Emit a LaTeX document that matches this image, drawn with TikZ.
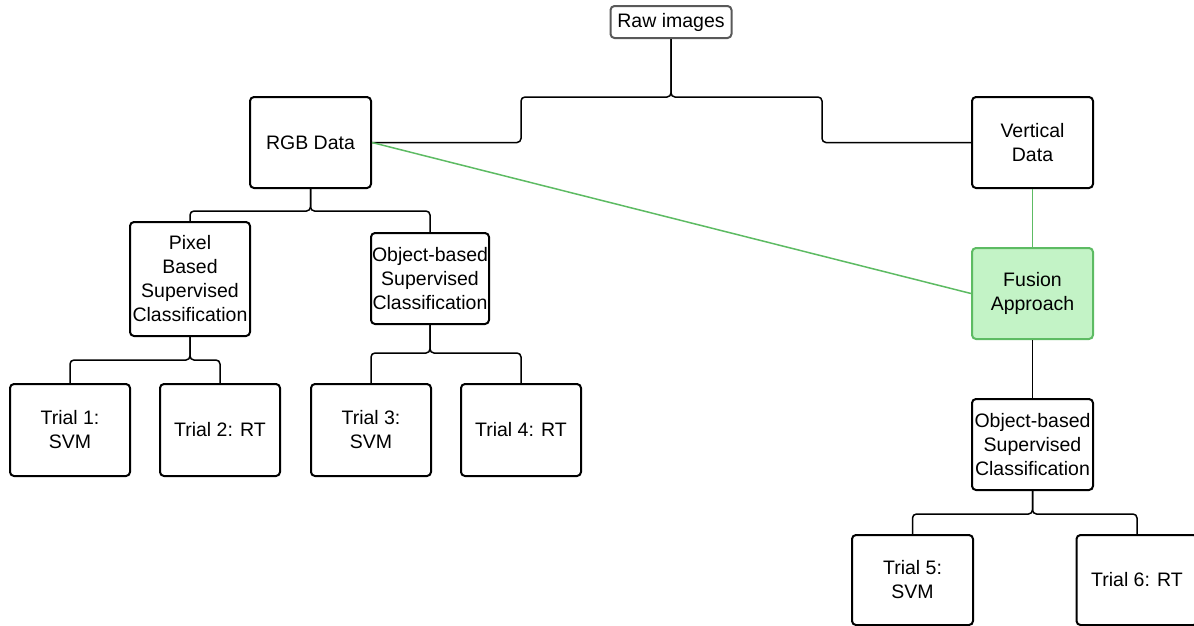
\documentclass[tikz,border=0pt]{standalone}
\usepackage{fontspec}
\setmainfont{Liberation Sans}
\begin{document}
\begin{tikzpicture}[x=1pt,y=-1pt,
  every node/.style={font=\fontsize{19.5}{24}\selectfont, align=center, inner sep=0pt},
  box/.style={draw=black, line width=2pt, rounded corners=4pt, fill=white,
              minimum width=121pt, minimum height=91pt},
  rawbox/.style={draw=black!65, line width=2pt, rounded corners=4pt, fill=white,
              minimum width=121pt, minimum height=32pt},
  fusebox/.style={draw=fuseline, line width=2pt, rounded corners=4pt, fill=fusefill,
              minimum width=121pt, minimum height=91pt},
  conn/.style={draw=black, line width=1.5pt, rounded corners=4pt},
  gconn/.style={draw=fuseline, line width=1.5pt}
]
\definecolor{fuseline}{HTML}{5DBB63}
\definecolor{fusefill}{HTML}{C3F3C6}
\useasboundingbox (0,0) rectangle (1194,625);

% nodes
\node[rawbox] (raw) at (671,22) {Raw images};
\node[box] (rgb) at (310.5,142.5) {RGB Data};
\node[box] (vert) at (1032.5,142.5) {Vertical\\Data};
\node[fusebox] (fusion) at (1032.5,293.5) {Fusion\\Approach};
\node[box, minimum width=120pt, minimum height=114pt] (pix) at (190,279)
  {Pixel\\Based\\Supervised\\Classification};
\node[box, minimum width=118pt] (obja) at (430,278.5)
  {Object-based\\Supervised\\Classification};
\node[box, minimum width=120pt, minimum height=92pt] (t1) at (70,430) {Trial 1:\\SVM};
\node[box, minimum width=120pt, minimum height=92pt] (t2) at (220,430) {Trial 2: RT};
\node[box, minimum width=120pt, minimum height=92pt] (t3) at (371,430) {Trial 3:\\SVM};
\node[box, minimum width=120pt, minimum height=92pt] (t4) at (521,430) {Trial 4: RT};
\node[box] (objb) at (1032.5,444.5) {Object-based\\Supervised\\Classification};
\node[box, minimum height=90pt] (t5) at (912.5,580) {Trial 5:\\SVM};
\node[box, minimum height=90pt] (t6) at (1137,580) {Trial 6: RT};

% tree connectors
\draw[conn] (raw.south) |- (521,97) |- (rgb.east);
\draw[conn] (raw.south) |- (822,97) |- (vert.west);
\draw[conn] (rgb.south) -- ++(0,22) -| (pix.north);
\draw[conn] (rgb.south) -- ++(0,22) -| (obja.north);
\draw[conn] (pix.south) -- ++(0,23) -| (t1.north);
\draw[conn] (pix.south) -- ++(0,23) -| (t2.north);
\draw[conn] (obja.south) -- ++(0,28) -| (t3.north);
\draw[conn] (obja.south) -- ++(0,28) -| (t4.north);
\draw[conn] (fusion.south) -- (objb.north);
\draw[conn] (objb.south) -- ++(0,23) -| (t5.north);
\draw[conn] (objb.south) -- ++(0,23) -| (t6.north);

% fusion inputs
\draw[gconn] (rgb.east) -- (fusion.west);
\draw[gconn] (vert.south) -- (fusion.north);
\end{tikzpicture}
\end{document}
